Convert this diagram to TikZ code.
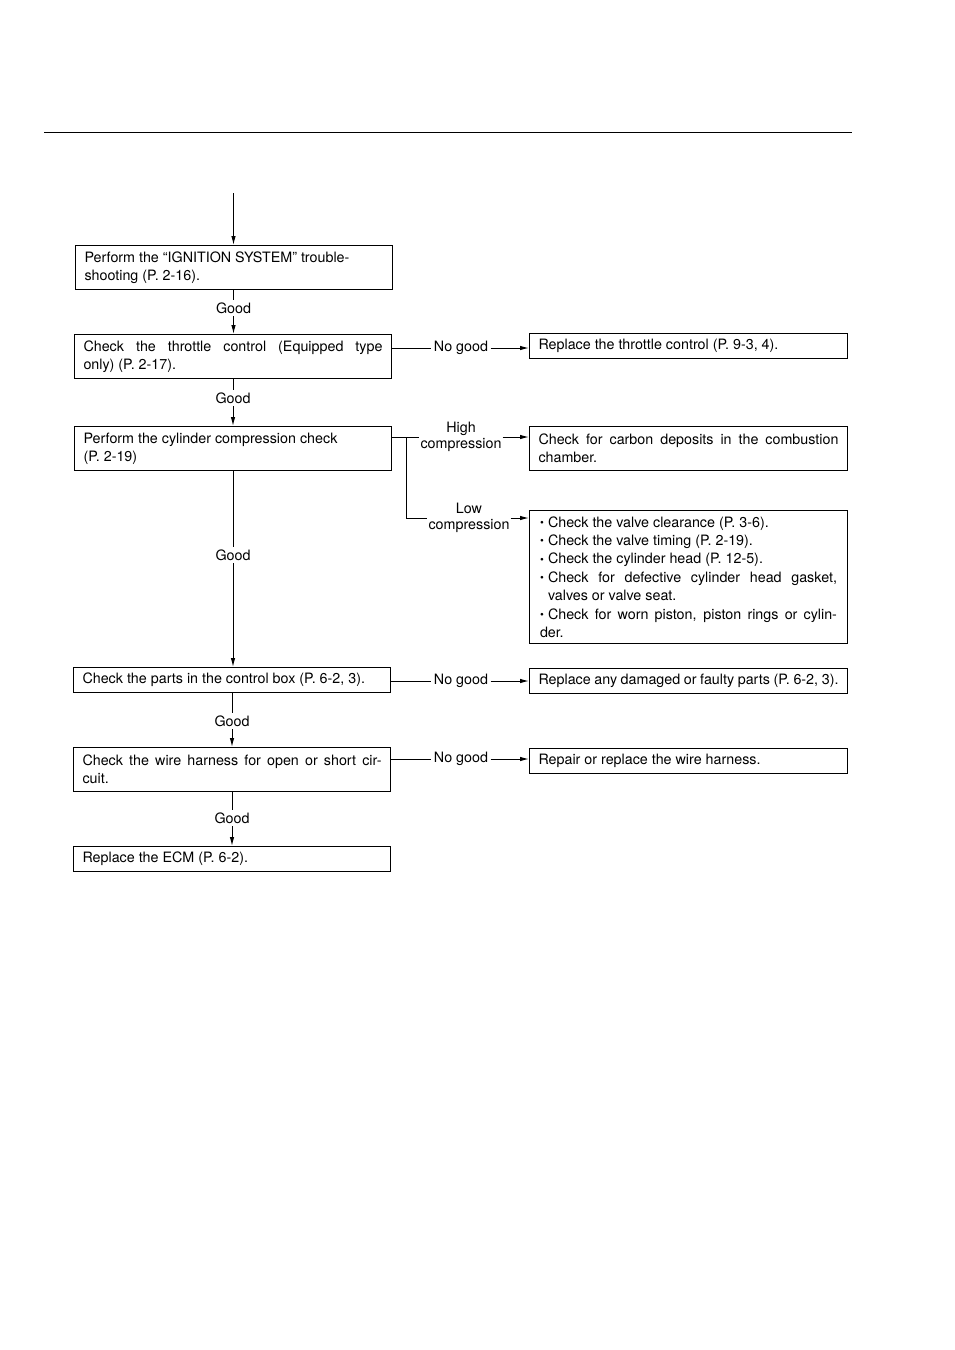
\documentclass[tikz,border=0pt]{standalone}
\usepackage{fontspec}
\setmainfont{TeX Gyre Heros}
\usetikzlibrary{arrows.meta,positioning,calc}
\newcommand{\txt}{\fontsize{14.3}{18.4}\selectfont}
\newcommand{\itm}{\hangindent=8pt\hangafter=1\noindent\makebox[8pt][l]{\raisebox{0.5pt}{\fontsize{11}{11}\selectfont\textbullet}}}
\tikzset{
  box/.style={draw, line width=1pt, anchor=north west, text width=299pt, inner xsep=9pt, inner ysep=0pt, minimum height=44pt, align=justify, font=\txt},
  rbox/.style={box, text width=300pt},
  lbl/.style={inner sep=2.5pt, align=center, font=\txt},
  arrow/.style={-{Latex[length=9pt,width=4.5pt]}, line width=1pt},
  link/.style={line width=1pt},
}

\begin{document}
\begin{tikzpicture}[x=1pt, y=-1pt]
  \useasboundingbox[fill=white] (0,0) rectangle (954,1350);
  \draw[line width=1pt] (44,132) -- (852,132);

  % main column
  \coordinate (start) at (233.5,193);
  \node[box] (ignition) at (75,245) {Perform the ``IGNITION SYSTEM'' trouble-\\shooting (P. 2-16).};
  \node[box] (throttle) at (74,334) {Check the throttle control (Equipped type\linebreak only) (P. 2-17).};
  \node[box] (compress) at (74,426) {Perform the cylinder compression check\\(P. 2-19)};
  \node[box, minimum height=25pt] (ctrlbox) at (73,667) {Check the parts in the control box (P. 6-2, 3).};
  \node[box] (harness) at (73,747) {Check the wire harness for open or short cir-\linebreak cuit.};
  \node[box, minimum height=25pt] (ecm) at (73,846) {Replace the ECM (P. 6-2).};

  % right column
  \node[rbox, minimum height=25pt] (rthrottle) at (529,333) {Replace the throttle control (P. 9-3, 4).};
  \node[rbox] (rcarbon) at (529,426) {Check for carbon deposits in the combustion\linebreak chamber.};
  \node[rbox, text width=297pt, inner xsep=10.5pt, minimum height=133pt] (rvalves) at (529,510) {%
    \itm Check the valve clearance (P. 3-6).\par
    \itm Check the valve timing (P. 2-19).\par
    \itm Check the cylinder head (P. 12-5).\par
    \itm Check for defective cylinder head gasket,\linebreak valves or valve seat.\par
    \itm Check for worn piston, piston rings or cylin-\linebreak der.};
  \node[rbox, minimum height=25pt] (rparts) at (529,668) {Replace any damaged or faulty parts (P. 6-2, 3).};
  \node[rbox, minimum height=25pt] (rharness) at (529,748) {Repair or replace the wire harness.};

  % labels
  \node[lbl] (good1) at (233.5,308) {Good};
  \node[lbl] (good2) at (233,398) {Good};
  \node[lbl] (good3) at (233,555) {Good};
  \node[lbl] (good4) at (232,721) {Good};
  \node[lbl] (good5) at (232,818) {Good};
  \node[lbl] (nogood1) at (461,348) {No good};
  \node[lbl] (nogood2) at (461,681) {No good};
  \node[lbl] (nogood3) at (461,759) {No good};
  \node[lbl, inner sep=1pt] (high) at (461,437) {High\\[-3pt]compression};
  \node[lbl, inner sep=1pt] (low) at (469,518) {Low\\[-3pt]compression};
  \coordinate (branch) at (406,437);

  % good path
  \draw[arrow] (start) -- (start |- ignition.north);
  \draw[link] (good1 |- ignition.south) -- (good1.north);
  \draw[arrow] (good1.south) -- (good1 |- throttle.north);
  \draw[link] (good2 |- throttle.south) -- (good2.north);
  \draw[arrow] (good2.south) -- (good2 |- compress.north);
  \draw[link] (good3 |- compress.south) -- (good3.north);
  \draw[arrow] (good3.south) -- (good3 |- ctrlbox.north);
  \draw[link] (good4 |- ctrlbox.south) -- (good4.north);
  \draw[arrow] (good4.south) -- (good4 |- harness.north);
  \draw[link] (good5 |- harness.south) -- (good5.north);
  \draw[arrow] (good5.south) -- (good5 |- ecm.north);

  % no good
  \draw[link] (throttle.east |- nogood1) -- (nogood1.west);
  \draw[arrow] (nogood1.east) -- (nogood1.east -| rthrottle.west);
  \draw[link] (ctrlbox.east |- nogood2) -- (nogood2.west);
  \draw[arrow] (nogood2.east) -- (nogood2.east -| rparts.west);
  \draw[link] (harness.east |- nogood3) -- (nogood3.west);
  \draw[arrow] (nogood3.east) -- (nogood3.east -| rharness.west);

  % compression
  \draw[link] (compress.east |- high.west) -- (high.west);
  \draw[arrow] (high.east) -- (high.east -| rcarbon.west);
  \draw[link] (branch) |- (low.west);
  \draw[arrow] (low.east) -- (low.east -| rvalves.west);
\end{tikzpicture}
\end{document}
